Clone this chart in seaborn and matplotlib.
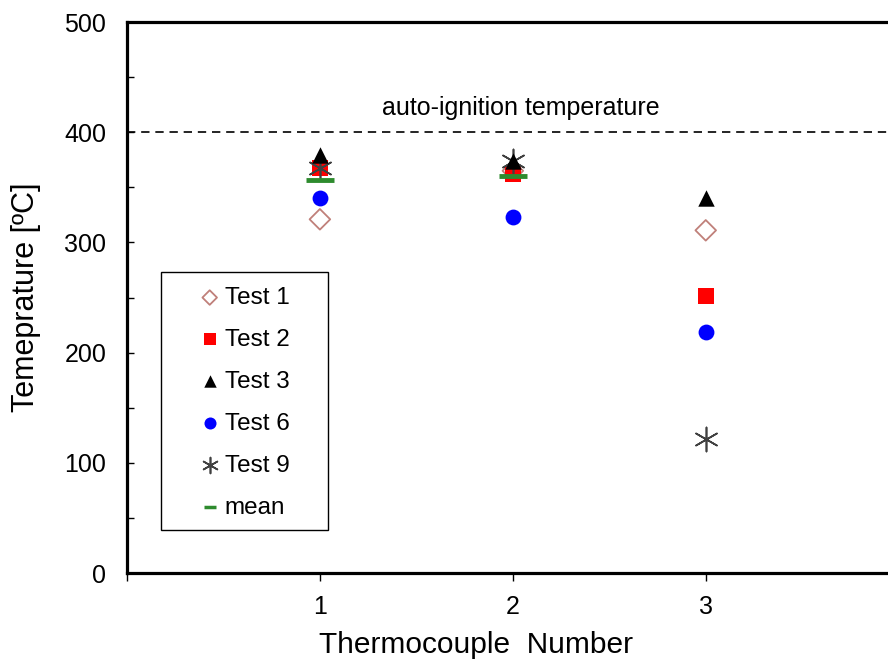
import numpy as np
import pandas as pd
import matplotlib
matplotlib.use('Agg')
import matplotlib.pyplot as plt
from matplotlib.patches import Rectangle
from matplotlib.ticker import MultipleLocator
import seaborn as sns

# valores
termopares = [1, 2, 3]
teste1 = [321, 365, 311]
teste2 = [368, 362, 251]
teste3 = [379, 374, 340]
teste6 = [340, 323, 219]
teste9 = [368, 374, 122]
media_x = [1, 2]
media = [357, 360]
temp_autoignicao = 400

sns.set_style("white")
plt.rcParams['font.family'] = ['Liberation Sans', 'DejaVu Sans']
plt.rcParams['text.color'] = 'black'
plt.rcParams['axes.labelcolor'] = 'black'
plt.rcParams['xtick.color'] = 'black'
plt.rcParams['ytick.color'] = 'black'

fig = plt.figure(figsize=(8.88, 6.59), dpi=100)
ax = fig.add_axes([0.143, 0.1305, 0.869, 0.836])

# nome, valores, marcador, preenchimento, borda, tamanho, espessura, ordem
series = [
    ('Test 1', teste1, 'D', 'none', '#c0807a', 110, 1.3, 3),
    ('Test 2', teste2, 's', 'red', 'red', 120, 0, 3),
    ('Test 3', teste3, '^', 'black', 'black', 140, 0, 3.6),
    ('Test 6', teste6, 'o', 'blue', 'blue', 130, 0, 3),
    ('Test 9', teste9, (6, 2, 0), '#404040', '#404040', 300, 1.2, 3.3),
]

for nome, vals, mk, fc, ec, s, lw, z in series:
    df = pd.DataFrame({'x': termopares, 'y': vals})
    sns.scatterplot(data=df, x='x', y='y', ax=ax, marker=mk, s=s,
                    facecolor=fc, edgecolor=ec, linewidth=lw, label=nome, zorder=z)

df_media = pd.DataFrame({'x': media_x, 'y': media})
sns.scatterplot(data=df_media, x='x', y='y', ax=ax, marker='_', s=380,
                color='#2e8b2e', linewidth=3.5, label='mean', zorder=4)

ax.axhline(temp_autoignicao, color='black', linestyle=(0, (5, 3.5)), linewidth=1.2, zorder=1)
ax.text(2.04, 422, 'auto-ignition temperature', ha='center', va='center', fontsize=18)

ax.set_xlim(0, 4)
ax.set_ylim(0, 500)
ax.set_xticks([0, 1, 2, 3])
ax.set_xticklabels(['', '1', '2', '3'])
ax.yaxis.set_major_locator(MultipleLocator(100))
ax.yaxis.set_minor_locator(MultipleLocator(50))
ax.tick_params(axis='y', which='both', direction='in', length=5, width=1, labelsize=18, left=True, pad=15)
ax.tick_params(axis='x', direction='out', length=6, width=1, labelsize=18, bottom=True, pad=10)

for sp in ax.spines.values():
    sp.set_linewidth(2.3)
    sp.set_color('black')

ax.set_xlabel('Thermocouple  Number', fontsize=21.5)
ax.xaxis.set_label_coords(0.452, -0.106)
ax.set_ylabel('Temeprature [ºC]', fontsize=22, labelpad=17)

leg = ax.legend(loc='upper left', bbox_to_anchor=(0.019, 0.559), frameon=False,
                fontsize=17.5, handlelength=3.8, handletextpad=-1.28, labelspacing=0.82,
                borderpad=0.4)
tamanhos = [55, 75, 80, 75, 130, 70]
for h, t in zip(leg.legend_handles, tamanhos):
    h.set_sizes([t])
leg.legend_handles[-1].set_linewidth(2.5)

ax.add_patch(Rectangle((0.044, 0.078), 0.216, 0.468, transform=ax.transAxes,
                       fill=False, edgecolor='black', linewidth=1, zorder=5))

fig.savefig('out.png', dpi=100)
